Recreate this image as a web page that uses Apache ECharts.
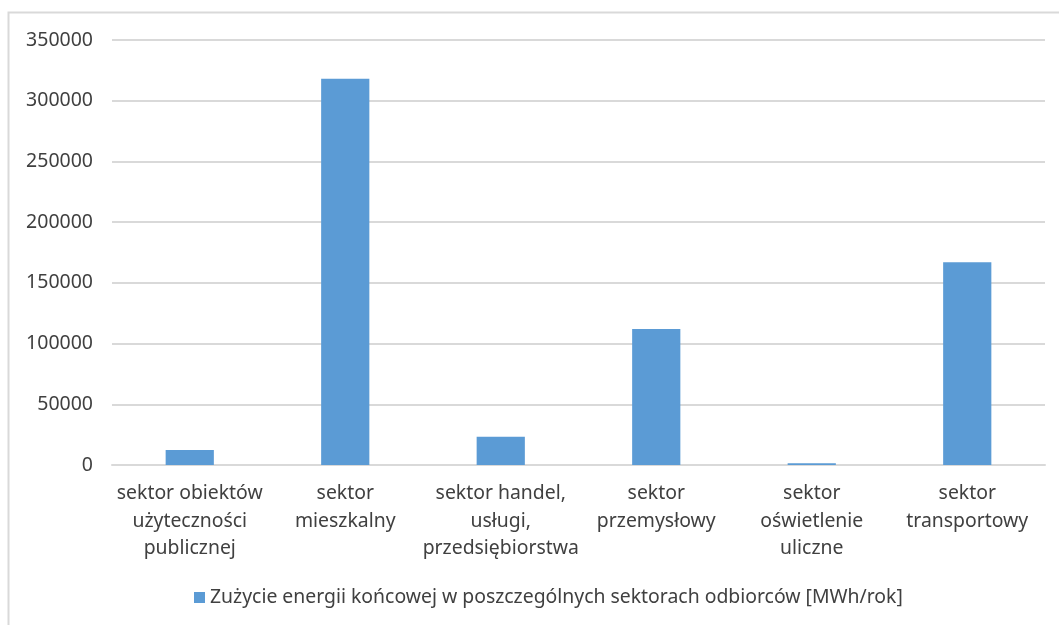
<!DOCTYPE html>
<html>
<head>
<meta charset="utf-8">
<script src="https://cdn.jsdelivr.net/npm/echarts@6/dist/echarts.min.js"></script>
<style>
  html, body { margin: 0; padding: 0; background: #fff; }
  #chart { width: 1059px; height: 625px; }
</style>
</head>
<body>
<div id="chart"></div>
<script>
// sektory odbiorców
const categories = [
  "sektor obiektów\nużyteczności\npublicznej",
  "sektor\nmieszkalny",
  "sektor handel,\nusługi,\nprzedsiębiorstwa",
  "sektor\nprzemysłowy",
  "sektor\noświetlenie\nuliczne",
  "sektor\ntransportowy",
];
// MWh/rok
const values = [12400, 318000, 23300, 112000, 1400, 167000];
const seriesName = "Zużycie energii końcowej w poszczególnych sektorach odbiorców [MWh/rok]";
const yTicks = { min: 0, max: 350000, interval: 50000 };

const chart = echarts.init(document.getElementById("chart"));
chart.setOption({
  animation: false,
  color: ["#5b9bd5"],
  textStyle: { fontFamily: "Noto Sans" },
  grid: { left: 112, right: 14, top: 40, bottom: 160, containLabel: false },
  graphic: [
    {
      type: "rect",
      shape: { x: 8.5, y: 12.5, width: 1100, height: 700 },
      style: { fill: null, stroke: "#d9d9d9", lineWidth: 2 },
      silent: true,
    },
  ],
  legend: {
    data: [seriesName],
    left: 189,
    top: 583,
    itemWidth: 11,
    itemHeight: 11,
    itemGap: 6,
    icon: "rect",
    textStyle: { fontSize: 19.4, color: "#404040", fontFamily: "Noto Sans" },
  },
  xAxis: {
    type: "category",
    data: categories,
    axisLine: { lineStyle: { color: "#d9d9d9", width: 2 } },
    axisTick: { show: false },
    axisLabel: {
      interval: 0,
      margin: 15,
      fontSize: 19.4,
      lineHeight: 27.5,
      color: "#404040",
      align: "center",
    },
  },
  yAxis: {
    type: "value",
    min: yTicks.min,
    max: yTicks.max,
    interval: yTicks.interval,
    axisLine: { show: false },
    axisTick: { show: false },
    splitLine: { lineStyle: { color: "#d9d9d9", width: 2 } },
    axisLabel: {
      fontSize: 19.5,
      color: "#404040",
      margin: 19,
      formatter: (v) => String(v),
    },
  },
  series: [
    {
      name: seriesName,
      type: "bar",
      data: values,
      barWidth: "31%",
    },
  ],
});
</script>
</body>
</html>
